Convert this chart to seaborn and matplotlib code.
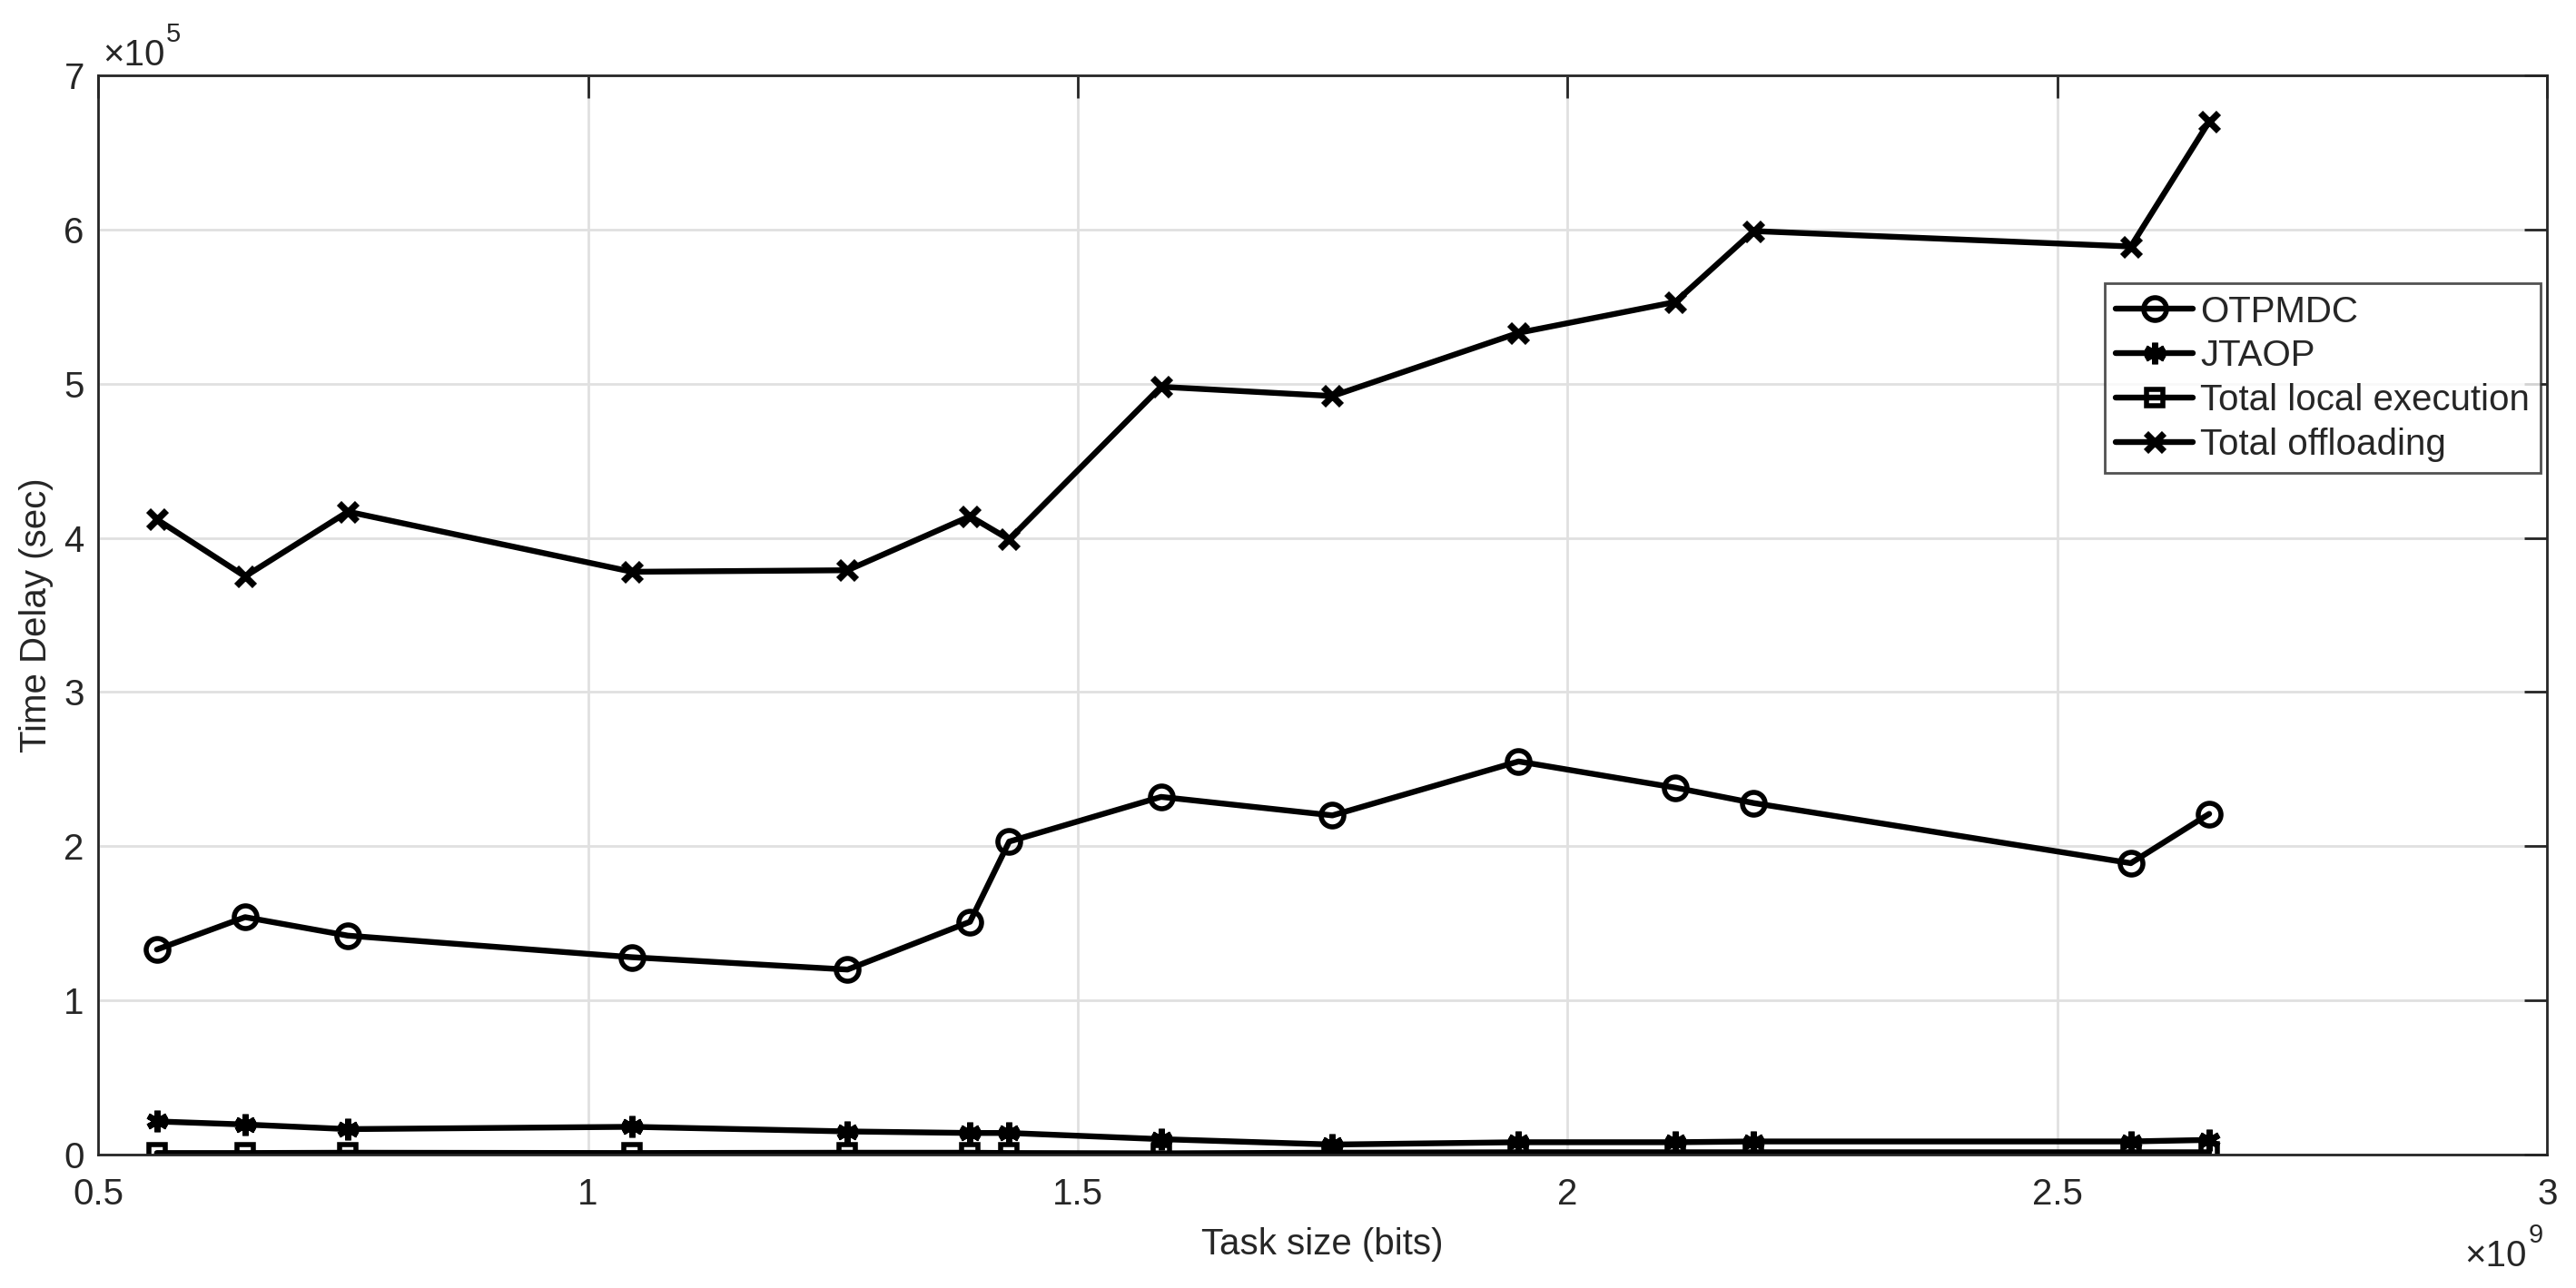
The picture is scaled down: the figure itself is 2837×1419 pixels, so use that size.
import numpy as np
import pandas as pd
import matplotlib
matplotlib.use("Agg")
import matplotlib.pyplot as plt
import seaborn as sns
from matplotlib.ticker import ScalarFormatter, MultipleLocator

# data (x in bits, y in seconds)
task_size = np.array([0.56, 0.65, 0.755, 1.045, 1.265, 1.39, 1.43, 1.585,
                      1.76, 1.95, 2.11, 2.19, 2.575, 2.655]) * 1e9
otpmdc = np.array([1.33, 1.54, 1.42, 1.28, 1.20, 1.51, 2.03, 2.32,
                   2.20, 2.55, 2.38, 2.28, 1.89, 2.21]) * 1e5
jtaop = np.array([0.215, 0.195, 0.165, 0.18, 0.15, 0.14, 0.14, 0.10,
                  0.065, 0.08, 0.08, 0.085, 0.085, 0.095]) * 1e5
local_exec = np.array([0.010, 0.010, 0.012, 0.010, 0.012, 0.012, 0.010, 0.008,
                       0.012, 0.015, 0.015, 0.015, 0.015, 0.015]) * 1e5
offloading = np.array([4.12, 3.75, 4.17, 3.78, 3.79, 4.14, 3.99, 4.98,
                       4.92, 5.33, 5.53, 5.99, 5.89, 6.70]) * 1e5


class MatlabFormatter(ScalarFormatter):
    # MATLAB style tick labels: 1 instead of 1.0
    def _set_format(self):
        self.format = '%g'


sns.set_style("white")
plt.rcParams['font.family'] = ['Liberation Sans', 'DejaVu Sans']

txt = '#262626'
fs = 14.5
fig = plt.figure(figsize=(14.185, 7.095), dpi=200)
ax = fig.add_axes([0.0381, 0.1036, 0.9507, 0.8379])

lw = 2.3
sns.lineplot(x=task_size, y=otpmdc, ax=ax, color='black', lw=lw, marker='o',
             markersize=9, markerfacecolor='none', markeredgecolor='black',
             markeredgewidth=2, label='OTPMDC')
sns.lineplot(x=task_size, y=jtaop, ax=ax, color='black', lw=lw, marker=(6, 2, 0),
             markersize=8.5, markeredgecolor='black', markeredgewidth=2.4,
             label='JTAOP')
sns.lineplot(x=task_size, y=local_exec, ax=ax, color='black', lw=lw, marker='s',
             markersize=6.5, markerfacecolor='none', markeredgecolor='black',
             markeredgewidth=2, label='Total local execution')
sns.lineplot(x=task_size, y=offloading, ax=ax, color='black', lw=lw, marker='x',
             markersize=7, markeredgecolor='black', markeredgewidth=2.6,
             label='Total offloading')

ax.set_xlim(0.5e9, 3e9)
ax.set_ylim(0, 7e5)
ax.xaxis.set_major_locator(MultipleLocator(0.5e9))
ax.yaxis.set_major_locator(MultipleLocator(1e5))
for axis in (ax.xaxis, ax.yaxis):
    fmt = MatlabFormatter()
    fmt.set_powerlimits((0, 0))
    axis.set_major_formatter(fmt)
    axis.get_offset_text().set_visible(False)

# exponent labels drawn MATLAB style: "×10" plus a raised exponent
def exponent_label(x, y, power, ha):
    base = ax.text(x, y, '×10', transform=ax.transAxes, fontsize=fs,
                   color=txt, ha=ha, va='baseline')
    ax.annotate(str(power), xy=(1, 1), xycoords=base, xytext=(0.5, -3.5),
                textcoords='offset points', fontsize=fs * 0.72, color=txt,
                ha='left', va='bottom')

exponent_label(0.0019, 1.0093, 5, 'left')
exponent_label(0.9918, -0.1034, 9, 'right')

ax.grid(True, color='#e0e0e0', lw=1.0)
ax.set_axisbelow(True)
for s in ax.spines.values():
    s.set_visible(True)
    s.set_color(txt)
    s.set_linewidth(1.0)
ax.tick_params(direction='in', length=9, width=1, top=True, right=True,
               labelsize=fs, colors=txt)
ax.tick_params(axis='x', pad=9)
ax.tick_params(axis='y', pad=5.5)

ax.set_xlabel('Task size (bits)', fontsize=fs, color=txt, labelpad=6)
ax.set_ylabel('Time Delay (sec)', fontsize=fs, color=txt, labelpad=4)

leg = ax.legend(loc='upper left', bbox_to_anchor=(0.8195, 0.807), fontsize=fs,
                frameon=True, fancybox=False, edgecolor=txt, handlelength=2.1,
                handletextpad=0.2, borderpad=0.3, labelspacing=0.27,
                borderaxespad=0)
leg.get_frame().set_linewidth(1.0)

fig.savefig('out.png', dpi=200)
